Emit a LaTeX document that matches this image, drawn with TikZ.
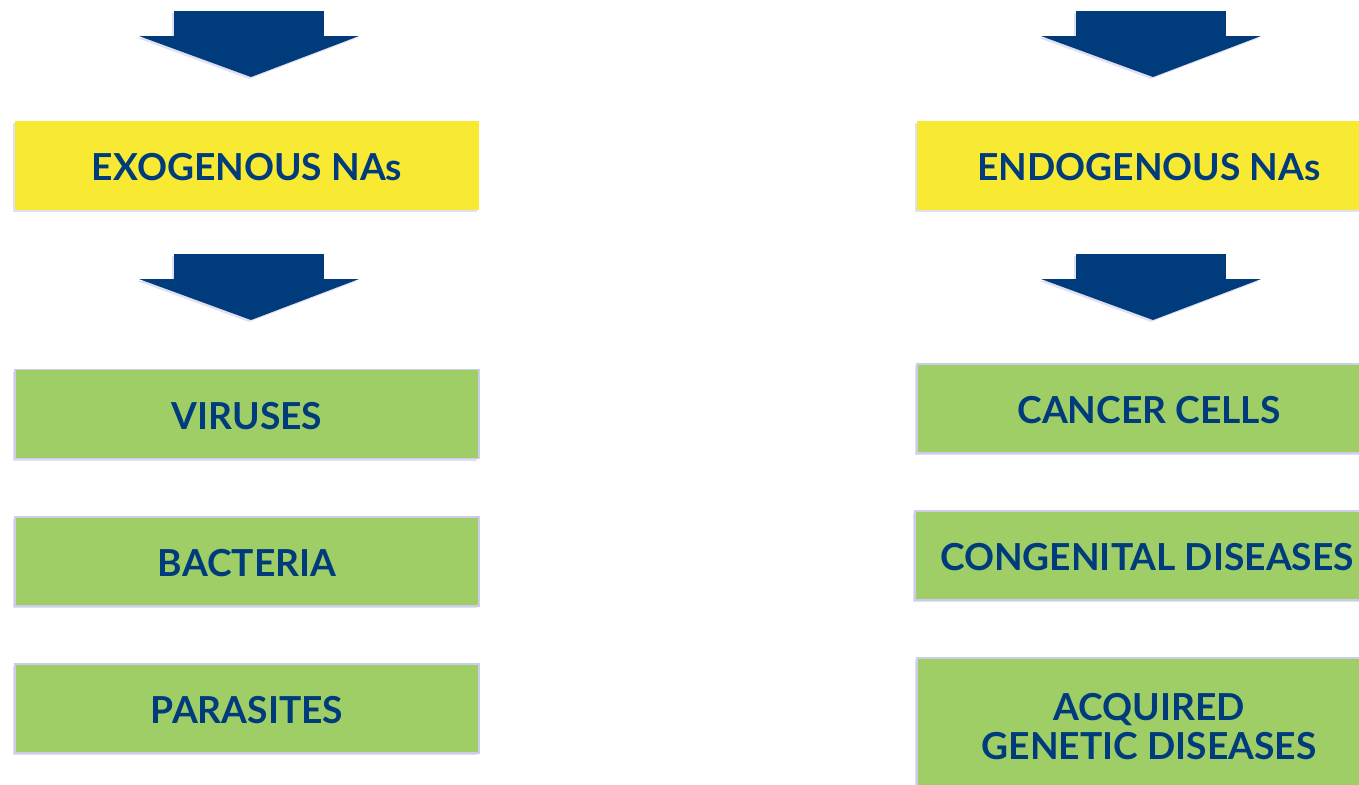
\documentclass[tikz,border=0pt]{standalone}
\usepackage{fontspec}
\setmainfont{Lato}
\usetikzlibrary{shadows}

\newlength{\du}
\setlength{\du}{0.5pt}

\definecolor{navyblue}{rgb}{0.000000, 0.231373, 0.486275}
\definecolor{boxyellow}{rgb}{0.972549, 0.913725, 0.200000}
\definecolor{boxgreen}{rgb}{0.623529, 0.807843, 0.403922}
\definecolor{edgelav}{rgb}{0.800000, 0.800000, 0.920000}

\tikzset{
  glow/.style={drop shadow={fill=edgelav, opacity=0.6, shadow xshift=-2\du, shadow yshift=-2\du}},
  namebox/.style={rectangle, minimum width=464\du, minimum height=89\du, inner sep=0pt,
    align=center, text=navyblue, font=\fontsize{18.6}{19.5}\selectfont\bfseries,
    text height=15.4pt, text depth=0pt, glow},
  sourcebox/.style={namebox, fill=boxyellow},
  diseasebox/.style={namebox, fill=boxgreen, draw=edgelav, line width=1.5\du}
}

% block arrow: #1 = centre x, #2 = top y (pixels)
\newcommand{\blockarrow}[2]{%
\fill[navyblue, glow] ({(#1-75)*\du},{(#2)*\du}) rectangle ({(#1+75)*\du},{(#2+26)*\du});
\fill[navyblue, glow] ({(#1-110)*\du},{(#2+25)*\du})--({(#1+110)*\du},{(#2+25)*\du})--({(#1+2)*\du},{(#2+66)*\du})--cycle;
\fill[navyblue] ({(#1-75)*\du},{(#2)*\du}) rectangle ({(#1+75)*\du},{(#2+27)*\du});
}

\begin{document}
\begin{tikzpicture}
\pgftransformxscale{1.000000}
\pgftransformyscale{-1.000000}
\useasboundingbox (0\du,0\du) rectangle (1359\du,784\du);
\clip (0\du,0\du) rectangle (1359\du,784\du);
% exogenous side
\blockarrow{249}{11}
\node[sourcebox] (exo) at (247\du,165.5\du) {EXOGENOUS NAs};
\blockarrow{249}{254}
\node[diseasebox] (virus) at (247\du,414\du) {VIRUSES};
\node[diseasebox] (bact) at (247\du,561.5\du) {BACTERIA};
\node[diseasebox] (para) at (247\du,708.5\du) {PARASITES};
% endogenous side
\blockarrow{1151}{11}
\node[sourcebox] (endo) at (1149\du,165.5\du) {ENDOGENOUS NAs};
\blockarrow{1151}{254}
\node[diseasebox] (cancer) at (1149\du,408.5\du) {CANCER CELLS};
\node[diseasebox] (cong) at (1147\du,555.5\du) {CONGENITAL DISEASES};
\node[diseasebox, minimum height=138\du, text height=, text depth=] (acq) at (1149\du,727\du) {ACQUIRED\\GENETIC DISEASES};
\end{tikzpicture}
\end{document}
